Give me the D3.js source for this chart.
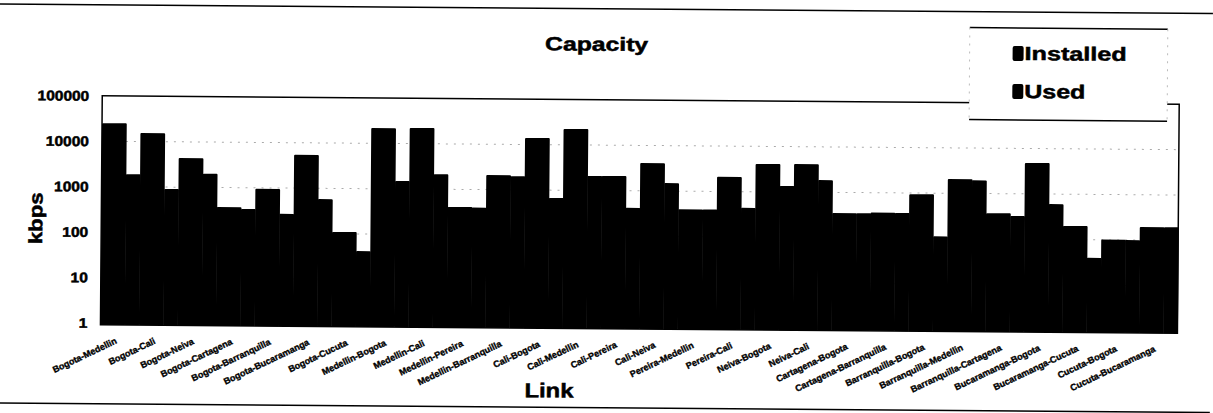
<!DOCTYPE html>
<html>
<head>
<meta charset="utf-8">
<script src="https://cdn.jsdelivr.net/npm/d3@7"></script>
<style>
  body { margin: 0; background: #fff; }
  svg { display: block; }
  text { font-family: Arial, "Liberation Sans", sans-serif; font-weight: bold; fill: #000; stroke: #000; stroke-width: 0.5px; }
  text.xlab { stroke-width: 0.35px; }
</style>
</head>
<body>
<svg id="chart" width="1213" height="413"></svg>
<script>
const links = [
  "Bogota-Medellin", "Bogota-Cali", "Bogota-Neiva", "Bogota-Cartagena", "Bogota-Barranquilla",
  "Bogota-Bucaramanga", "Bogota-Cucuta", "Medellin-Bogota", "Medellin-Cali", "Medellin-Pereira",
  "Medellin-Barranquilla", "Cali-Bogota", "Cali-Medellin", "Cali-Pereira", "Cali-Neiva",
  "Pereira-Medellin", "Pereira-Cali", "Neiva-Bogota", "Neiva-Cali", "Cartagena-Bogota",
  "Cartagena-Barranquilla", "Barranquilla-Bogota", "Barranquilla-Medellin", "Barranquilla-Cartagena",
  "Bucaramanga-Bogota", "Bucaramanga-Cucuta", "Cucuta-Bogota", "Cucuta-Bucaramanga"
];
const installed = [
  25000, 15400, 4400, 370, 950, 5400, 110, 21800, 22200, 410,
  2100, 14000, 22400, 2100, 4100, 400, 2100, 4100, 4150, 350,
  365, 940, 2050, 370, 4800, 200, 102, 195
];
const used = [
  1900, 910, 2000, 340, 270, 580, 42, 1500, 2150, 400,
  2000, 670, 2080, 420, 1500, 400, 440, 1350, 1850, 350,
  360, 112, 1950, 325, 600, 40, 100, 195
];
const yTicks = [1, 10, 100, 1000, 10000, 100000];
const seriesNames = ["Installed", "Used"];

const svg = d3.select("#chart");
// the scanned page is slightly tilted
const g = svg.append("g").attr("transform", "rotate(0.45)");

const plot = { left: 103, right: 1180, top: 95, bottom: 322 };

const x = d3.scaleBand().domain(links).range([plot.left, plot.right]).padding(0);
const y = d3.scaleLog().domain([1, 100000]).range([plot.bottom, plot.top]);
const split = 0.63;  // share of the band taken by the Installed bar

// outer chart border (only top and bottom survive the scan)
g.append("line").attr("x1", 0).attr("x2", 1213).attr("y1", 4).attr("y2", 4)
  .attr("stroke", "#000").attr("stroke-width", 1.5);
g.append("line").attr("x1", 0).attr("x2", 1213).attr("y1", 403).attr("y2", 403)
  .attr("stroke", "#000").attr("stroke-width", 1.5);

// gridlines
g.selectAll(".grid")
  .data(yTicks.filter(d => d > 1 && d < 100000))
  .enter()
  .append("line")
  .attr("class", "grid")
  .attr("x1", plot.left).attr("x2", plot.right)
  .attr("y1", d => y(d)).attr("y2", d => y(d))
  .attr("stroke", "#aaa")
  .attr("stroke-width", 1)
  .attr("stroke-dasharray", "2,6");

// bars
const bars = links.map((l, i) => [
  { link: l, key: "Installed", v: installed[i], x0: x(l), w: x.bandwidth() * split },
  { link: l, key: "Used", v: used[i], x0: x(l) + x.bandwidth() * split, w: x.bandwidth() * (1 - split) }
]).flat();

g.selectAll(".bar")
  .data(bars)
  .enter()
  .append("rect")
  .attr("class", "bar")
  .attr("x", d => d.x0)
  .attr("width", d => d.w + 0.5)
  .attr("y", d => y(d.v))
  .attr("height", d => y(1) - y(d.v) + 2)
  .attr("rx", 1)
  .attr("fill", "#000");

// plot frame
g.append("rect")
  .attr("x", plot.left).attr("y", plot.top)
  .attr("width", plot.right - plot.left).attr("height", plot.bottom - plot.top + 2)
  .attr("fill", "none").attr("stroke", "#000").attr("stroke-width", 1.5);

// y axis labels
g.selectAll(".ytick")
  .data(yTicks)
  .enter()
  .append("text")
  .attr("class", "ytick")
  .attr("x", 90)
  .attr("y", d => y(d) + 5)
  .attr("text-anchor", "end")
  .attr("textLength", d => String(d).length * 8.6)
  .attr("lengthAdjust", "spacingAndGlyphs")
  .style("font-size", "14px")
  .text(d => d3.format("d")(d));

// category labels
g.selectAll(".xlab")
  .data(links)
  .enter()
  .append("text")
  .attr("class", "xlab")
  .attr("text-anchor", "end")
  .attr("transform", d => `translate(${x(d) + x.bandwidth() / 2 - 2}, 342) rotate(-26)`)
  .style("font-size", "9px")
  .text(d => d);

// titles
g.append("text")
  .attr("x", 597).attr("y", 46)
  .attr("text-anchor", "middle")
  .attr("textLength", 103).attr("lengthAdjust", "spacingAndGlyphs")
  .style("font-size", "19px")
  .text("Capacity");

g.append("text")
  .attr("transform", "translate(44, 218) rotate(-90)")
  .attr("text-anchor", "middle")
  .attr("textLength", 52).attr("lengthAdjust", "spacingAndGlyphs")
  .style("font-size", "19px")
  .text("kbps");

g.append("text")
  .attr("x", 552).attr("y", 393)
  .attr("text-anchor", "middle")
  .attr("textLength", 49).attr("lengthAdjust", "spacingAndGlyphs")
  .style("font-size", "20px")
  .text("Link");

// legend
const legend = g.append("g").attr("transform", "translate(970, 20)");
legend.append("rect")
  .attr("width", 198).attr("height", 92)
  .attr("fill", "#fff");
legend.append("line").attr("x1", 0).attr("x2", 198).attr("y1", 0).attr("y2", 0)
  .attr("stroke", "#000").attr("stroke-width", 1.5);
legend.append("line").attr("x1", 0).attr("x2", 198).attr("y1", 92).attr("y2", 92)
  .attr("stroke", "#000").attr("stroke-width", 1.5);
[0, 198].forEach(px => legend.append("line")
  .attr("x1", px).attr("x2", px).attr("y1", 0).attr("y2", 92)
  .attr("stroke", "#bbb").attr("stroke-dasharray", "2,6"));

const legendItems = legend.selectAll(".leg")
  .data(seriesNames)
  .enter()
  .append("g")
  .attr("class", "leg")
  .attr("transform", (d, i) => `translate(43, ${18 + i * 38})`);

legendItems.append("rect")
  .attr("width", 11).attr("height", 15)
  .attr("rx", 2)
  .attr("fill", "#000");

legendItems.append("text")
  .attr("x", 12).attr("y", 14)
  .attr("textLength", d => d === "Installed" ? 102 : 61)
  .attr("lengthAdjust", "spacingAndGlyphs")
  .style("font-size", "19px")
  .text(d => d);
</script>
</body>
</html>
